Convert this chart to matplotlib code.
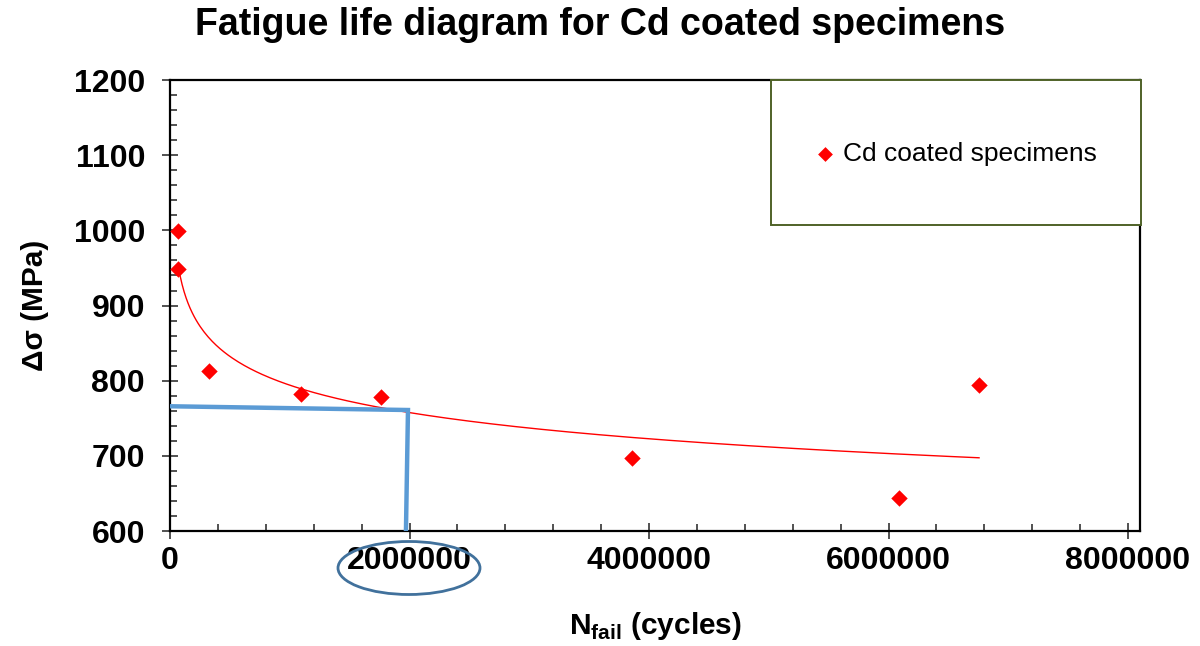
import numpy as np
import matplotlib
matplotlib.use("Agg")
import matplotlib.pyplot as plt
from matplotlib.patches import Rectangle, Ellipse
from matplotlib.ticker import MultipleLocator

plt.rcParams['font.family'] = ['Liberation Sans', 'DejaVu Sans']
plt.rcParams['mathtext.fontset'] = 'custom'
plt.rcParams['mathtext.rm'] = 'Liberation Sans'
plt.rcParams['mathtext.bf'] = 'Liberation Sans:bold'

# Data
n_fail = [67000, 67000, 326000, 1094000, 1762000, 3858000, 6088000, 6756000]
stress = [999, 948, 813, 782, 778, 697, 644, 794]
series_label = "Cd coated specimens"

# Highlight of the 2,000,000-cycle endurance level
marker_x = [0, 1987000, 1970000]
marker_y = [766, 761, 600]

x_ticks = [0, 2000000, 4000000, 6000000, 8000000]
y_ticks = [600, 700, 800, 900, 1000, 1100, 1200]

fig = plt.figure(figsize=(12, 6.46), dpi=100)
ax = fig.add_axes([0.1417, 0.178, 0.8083, 0.698])

# Power trendline fitted to the data (Excel-style: ln y = ln a + b ln x)
b, ln_a = np.polyfit(np.log(n_fail), np.log(stress), 1)
xf = np.linspace(min(n_fail), max(n_fail), 400)
ax.plot(xf, np.exp(ln_a) * xf ** b, color='#FF0000', lw=1.0, zorder=3)

ax.plot(marker_x, marker_y, color='#5B9BD5', lw=3.2, solid_joinstyle='miter', zorder=4)

ax.scatter(n_fail, stress, marker='D', s=70, color='#FF0000', zorder=5, label=series_label,
           linewidths=0)

ax.set_xlim(0, 8100000)
ax.set_ylim(600, 1200)
ax.set_xticks(x_ticks)
ax.set_yticks(y_ticks)
ax.set_xticklabels([str(v) for v in x_ticks])
ax.set_yticklabels([str(v) for v in y_ticks])
ax.xaxis.set_minor_locator(MultipleLocator(400000))
ax.yaxis.set_minor_locator(MultipleLocator(20))
ax.tick_params(axis='both', which='major', direction='inout', length=12, width=1.2,
               labelsize=23, color='#333333')
ax.tick_params(axis='y', which='major', pad=12)
ax.tick_params(axis='x', which='major', pad=5)
ax.tick_params(axis='both', which='minor', direction='in', length=5, width=1.2, color='#333333')
for lbl in ax.get_xticklabels() + ax.get_yticklabels():
    lbl.set_fontweight('bold')
for s in ax.spines.values():
    s.set_linewidth(1.6)
    s.set_color('black')

fig.text(0.5, 1 - 25 / 646, "Fatigue life diagram for Cd coated specimens", fontsize=27,
         fontweight='bold', ha='center', va='center')
ax.set_ylabel("Δσ (MPa)", fontsize=21.5, fontweight='bold', labelpad=18)
ax.set_xlabel(r"N$_{\mathbf{fail}}$ (cycles)", fontsize=21.5, fontweight='bold', labelpad=24)

# Legend box
ax.add_patch(Rectangle((0.6196, 0.678), 0.3814, 0.322, transform=ax.transAxes,
                       facecolor='white', edgecolor='#4F6228', lw=1.4, zorder=6,
                       clip_on=False))
leg = ax.legend(loc='center', bbox_to_anchor=(0.81, 0.836), frameon=False, fontsize=19,
                handlelength=0.8, handletextpad=0.25, markerscale=0.9, borderaxespad=0)
leg.set_zorder(7)

# Ellipse around 2000000 label
fig.add_artist(Ellipse((409 / 1200, 1 - 568 / 646), 142 / 1200, 53 / 646,
                       transform=fig.transFigure, fill=False, edgecolor='#41719C', lw=2))

fig.savefig("out.png", dpi=100)
